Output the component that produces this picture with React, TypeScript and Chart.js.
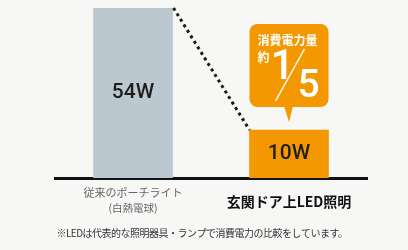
import React, { useEffect, useRef } from "react";
import { Chart, registerables } from "chart.js";

Chart.register(...registerables);

const categories = ["従来のポーチライト", "玄関ドア上LED照明"];
const categorySubLabels = ["(白熱電球)", ""];
const watts = [54, 10];
const valueLabels = ["54W", "10W"];
const barColors = ["#bcc8d0", "#f39800"];
const calloutTitle = "消費電力量";
const calloutPrefix = "約";
const calloutNumerator = "1";
const calloutDenominator = "5";
const footnote = "※LEDは代表的な照明器具・ランプで消費電力の比較をしています。";

const FONT = "'Noto Sans CJK JP', 'Noto Sans', sans-serif";
const NUM_FONT = "Roboto, 'Noto Sans', sans-serif";

const decorPlugin = {
  id: "decor",
  beforeDraw(chart: any) {
    const { ctx, width, height } = chart;
    ctx.save();
    ctx.fillStyle = "#f7f7f6";
    ctx.fillRect(0, 0, width, height);
    ctx.restore();
  },
  afterDraw(chart: any) {
    const { ctx } = chart;
    const meta = chart.getDatasetMeta(0);
    const xScale = chart.scales.x;
    const b0 = meta.data[0];
    const b1 = meta.data[1];
    ctx.save();

    // dotted connector
    ctx.strokeStyle = "#1a1a1a";
    ctx.lineWidth = 3;
    ctx.setLineDash([3, 3.5]);
    ctx.beginPath();
    ctx.moveTo(b0.x + b0.width / 2 + 1, b0.y);
    ctx.lineTo(b1.x - b1.width / 2, b1.y);
    ctx.stroke();
    ctx.setLineDash([]);

    // values inside bars
    ctx.fillStyle = "#1e1e1e";
    ctx.font = `500 21px ${NUM_FONT}`;
    ctx.textAlign = "center";
    ctx.textBaseline = "middle";
    meta.data.forEach((bar: any, i: number) => {
      ctx.fillText(valueLabels[i], bar.x, (bar.y + bar.base) / 2);
    });

    // category labels
    const baseY = chart.chartArea.bottom;
    const x0 = xScale.getPixelForValue(0);
    const x1 = xScale.getPixelForValue(1);
    ctx.fillStyle = "#666";
    ctx.font = `11px ${FONT}`;
    ctx.fillText(categories[0], x0, baseY + 15);
    ctx.font = `10.5px ${FONT}`;
    ctx.fillText(categorySubLabels[0], x0, baseY + 30);
    ctx.fillStyle = "#111";
    ctx.font = `bold 14px ${FONT}`;
    ctx.fillText(categories[1], x1, baseY + 24);

    // footnote
    ctx.fillStyle = "#333";
    ctx.font = `10px ${FONT}`;
    (ctx as any).letterSpacing = "-0.5px";
    ctx.fillText(footnote, 202, baseY + 55);
    (ctx as any).letterSpacing = "0px";

    // callout
    const left = b1.x - b1.width / 2;
    const right = b1.x + b1.width / 2;
    const top = chart.chartArea.top + 16;
    const bottom = b1.y - 23;
    const tipY = b1.y - 8;
    const cx = b1.x;
    ctx.fillStyle = barColors[1];
    ctx.beginPath();
    ctx.roundRect(left, top, right - left, bottom - top, 8);
    ctx.fill();
    ctx.beginPath();
    ctx.moveTo(cx - 5, bottom - 1);
    ctx.lineTo(cx + 4, bottom - 1);
    ctx.lineTo(cx, tipY);
    ctx.closePath();
    ctx.fill();

    ctx.fillStyle = "#fff";
    ctx.textAlign = "left";
    ctx.font = `bold 12px ${FONT}`;
    ctx.fillText(calloutTitle, left + 8, top + 16);
    ctx.fillText(calloutPrefix, left + 8, top + 33);
    ctx.textAlign = "center";
    ctx.font = `500 42px ${NUM_FONT}`;
    ctx.fillText(calloutNumerator, left + 33, top + 44);
    ctx.font = `500 39px ${NUM_FONT}`;
    ctx.fillText(calloutDenominator, left + 59, top + 63);
    ctx.strokeStyle = "#fff";
    ctx.lineWidth = 1.5;
    ctx.beginPath();
    ctx.moveTo(left + 26, top + 77);
    ctx.lineTo(left + 55, top + 25);
    ctx.stroke();

    ctx.restore();
  },
};

export default function App() {
  const ref = useRef<HTMLCanvasElement | null>(null);
  useEffect(() => {
    if (!ref.current) return;
    const chart = new Chart(ref.current, {
      type: "bar",
      data: {
        labels: categories,
        datasets: [
          {
            data: watts,
            backgroundColor: barColors,
            borderWidth: 0,
            barThickness: 79,
            base: -7.3,
          } as any,
        ],
      },
      options: {
        animation: false,
        responsive: false,
        events: [],
        layout: { padding: { left: 55, right: 41, top: 8, bottom: 72 } },
        plugins: { legend: { display: false }, tooltip: { enabled: false } },
        scales: {
          x: {
            grid: { display: false, drawTicks: false },
            ticks: { display: false },
            border: { display: true, color: "#111", width: 3 },
          },
          y: { display: false, min: -7.3, max: 54 },
        },
      },
      plugins: [decorPlugin],
    });
    return () => chart.destroy();
  }, []);
  return (
    <div style={{ position: "fixed", left: 0, top: 0, width: 408, height: 250 }}>
      <canvas ref={ref} width={408} height={250} />
    </div>
  );
}
